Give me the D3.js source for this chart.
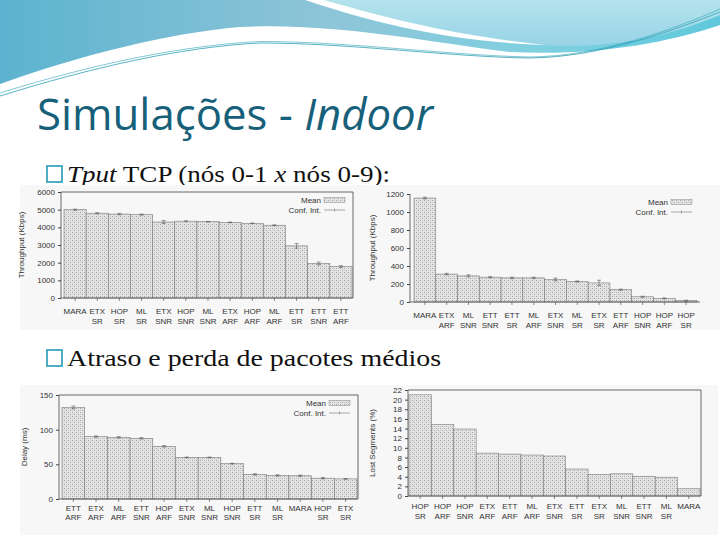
<!DOCTYPE html>
<html>
<head>
<meta charset="utf-8">
<style>
	body{ margin:0; background:#fff; }
	svg{ display:block; }
</style>
</head>
<body>
<script src="https://cdn.jsdelivr.net/npm/d3@7/dist/d3.min.js"></script>
<svg width="720" height="540"></svg>
<script>
	// data
	var tputCats = ["MARA","ETX SR","HOP SR","ML SR","ETX SNR","HOP SNR","ML SNR","ETX ARF","HOP ARF","ML ARF","ETT SR","ETT SNR","ETT ARF"];
	var tputVals = [5000,4800,4750,4720,4300,4350,4320,4280,4230,4120,2950,1950,1780];
	var tputCi = [30,30,40,30,80,10,10,20,10,20,130,80,50];
	var tputTicks = [0,1000,2000,3000,4000,5000,6000];

	var tput9Cats = ["MARA","ETX ARF","ML SNR","ETT SNR","ETT SR","ML ARF","ETX SNR","ML SR","ETX SR","ETT ARF","HOP SNR","HOP ARF","HOP SR"];
	var tput9Vals = [1155,310,290,276,268,268,250,228,212,137,58,40,15];
	var tput9Ci = [10,8,12,6,8,8,15,6,30,6,6,5,5];
	var tput9Ticks = [0,200,400,600,800,1000,1200];

	var delayCats = ["ETT ARF","ETX ARF","ML ARF","ETT SNR","HOP ARF","ETX SNR","ML SNR","HOP SNR","ETT SR","ML SR","MARA","HOP SR","ETX SR"];
	var delayVals = [132,90,89,87.5,76,60,60,51,35.5,34,33.5,30,29];
	var delayCi = [2,1,1,1,1,0.5,0.5,0.5,1,1,1,1,0.5];
	var delayTicks = [0,50,100,150];

	var lossCats = ["HOP SR","HOP ARF","HOP SNR","ETX ARF","ETT ARF","ML ARF","ETX SNR","ETT SR","ETX SR","ML SNR","ETT SNR","ML SR","MARA"];
	var lossVals = [21,14.8,13.9,8.9,8.7,8.5,8.3,5.6,4.5,4.6,4.1,3.9,1.5];
	var lossTicks = [0,2,4,6,8,10,12,14,16,18,20,22];

	var svg = d3.select("svg");
	var defs = svg.append("defs");

	// header swoosh
	var g1 = defs.append("linearGradient").attr("id","blueGrad").attr("x1","0").attr("x2","1").attr("y1","0").attr("y2","0");
	g1.append("stop").attr("offset","0").attr("stop-color","#5cb3cf");
	g1.append("stop").attr("offset","0.45").attr("stop-color","#8ec5d8");
	g1.append("stop").attr("offset","0.75").attr("stop-color","#7fd0e0");
	g1.append("stop").attr("offset","1").attr("stop-color","#5fc8dc");
	var g2 = defs.append("linearGradient").attr("id","cyanGrad").attr("x1","0").attr("x2","0").attr("y1","0").attr("y2","1");
	g2.append("stop").attr("offset","0").attr("stop-color","#b3e3ec");
	g2.append("stop").attr("offset","1").attr("stop-color","#98d3e6");

	var pat = defs.append("pattern").attr("id","hatch").attr("patternUnits","userSpaceOnUse")
		.attr("width",4).attr("height",4);
	pat.append("rect").attr("width",4).attr("height",4).attr("fill","#e4e4e4");
	pat.append("rect").attr("x",0).attr("y",0).attr("width",1).attr("height",1).attr("fill","#a5a5a5");
	pat.append("rect").attr("x",2).attr("y",2).attr("width",1).attr("height",1).attr("fill","#a5a5a5");
	pat.append("rect").attr("x",2).attr("y",0).attr("width",1).attr("height",1).attr("fill","#cccccc");
	pat.append("rect").attr("x",0).attr("y",2).attr("width",1).attr("height",1).attr("fill","#cccccc");

	svg.append("path")
		.attr("d","M0,0 L720,0 L720,25 C660,45 590,56 510,52 C450,46 340,22 240,27 C170,33 80,55 0,84 Z")
		.attr("fill","url(#blueGrad)");
	svg.append("path")
		.attr("d","M322,0 L720,0 L720,15 C670,36 610,50 540,45 C450,36 380,16 322,0 Z")
		.attr("fill","url(#cyanGrad)");
	svg.append("path")
		.attr("d","M305,0 L324,0 C380,16 450,35 545,45 C450,42 370,22 305,0 Z")
		.attr("fill","#fff");
	[[0,0],[3,0.6],[6,0.8]].forEach(function(o){
		svg.append("path")
			.attr("d","M0,"+(90+o[0])+" C90,"+(62+o[0])+" 180,"+(44+o[0]/2)+" 260,"+(40+o[0]/2)+" C350,"+(40+o[0]/2)+" 450,"+(54+o[0]/2)+" 530,"+(56+o[0]/3)+" C600,"+(55+o[0]/3)+" 670,"+(30+o[0]/3)+" 720,"+(6+o[0]))
			.attr("fill","none").attr("stroke","#2f9fb5").attr("stroke-width",o[1]);
	});

	// title and bullets
	var title = svg.append("text").attr("x",37).attr("y",130)
		.attr("textLength",396).attr("lengthAdjust","spacingAndGlyphs")
		.style("font-family","'Open Sans', sans-serif").style("font-size","44px").attr("fill","#17607a");
	title.append("tspan").text("Simulações - ");
	title.append("tspan").style("font-style","italic").text("Indoor");

	function bullet(y, len, parts){
		svg.append("rect").attr("x",47).attr("y",y-16).attr("width",15).attr("height",16)
			.attr("fill","none").attr("stroke","#3aa6bd").attr("stroke-width",1.8);
		var t = svg.append("text").attr("x",67).attr("y",y)
			.attr("textLength",len).attr("lengthAdjust","spacingAndGlyphs")
			.style("font-family","'Liberation Serif', serif").style("font-size","23px").attr("fill","#111");
		parts.forEach(function(p){
			t.append("tspan").style("font-style",p[1] ? "italic" : "normal").text(p[0]);
		});
	}
	bullet(182,323,[["Tput",true],[" TCP (nós 0-1 ",false],["x",true],[" nós 0-9):",false]]);
	bullet(366,374,[["Atraso e perda de pacotes médios",false]]);

	// one small bar chart
	function barChart(o){
		svg.append("rect").attr("x",o.panel[0]).attr("y",o.panel[1]).attr("width",o.panel[2]).attr("height",o.panel[3]).attr("fill","#f7f7f7");
		var g = svg.append("g");
		var x = d3.scaleBand().domain(o.cats).range([o.bx0, o.bx1]).padding(0);
		var y = d3.scaleLinear().domain([0, o.max]).range([o.bottom, o.top]);

		g.selectAll(".bar").data(o.vals).enter().append("rect")
			.attr("x",function(d,i){ return x(o.cats[i]); })
			.attr("y",function(d){ return y(d); })
			.attr("width",x.bandwidth())
			.attr("height",function(d){ return y(0) - y(d); })
			.attr("fill","url(#hatch)").attr("stroke","#7a7a7a").attr("stroke-width",0.6);

		if(o.ci){
			o.vals.forEach(function(v,i){
				var cx = x(o.cats[i]) + x.bandwidth()/2;
				g.append("path")
					.attr("d","M"+cx+","+y(v-o.ci[i])+"V"+y(v+o.ci[i])+"M"+(cx-2)+","+y(v+o.ci[i])+"h4M"+(cx-2)+","+y(v-o.ci[i])+"h4")
					.attr("stroke","#555").attr("stroke-width",0.6).attr("fill","none");
			});
		}

		// frame
		var fr = "M"+o.left+","+o.top+"V"+o.bottom+"H"+o.right;
		if(o.box) fr += "V"+o.top+"H"+o.left;
		g.append("path").attr("d",fr).attr("fill","none").attr("stroke","#444").attr("stroke-width",0.8);

		var yAxis = d3.axisLeft(y).tickValues(o.ticks).tickFormat(d3.format("d")).tickSize(3).tickPadding(3);
		var ya = g.append("g").attr("transform","translate("+o.left+",0)").call(yAxis);
		ya.select(".domain").remove();
		ya.selectAll("line").attr("stroke","#444");
		ya.selectAll("text").style("font-family","'Liberation Sans', sans-serif").style("font-size","8px").attr("fill","#333");

		// category ticks and two-line labels
		o.cats.forEach(function(c){
			var cx = x(c) + x.bandwidth()/2;
			g.append("line").attr("x1",cx).attr("x2",cx).attr("y1",o.bottom).attr("y2",o.bottom+3).attr("stroke","#444").attr("stroke-width",0.6);
			var t = g.append("text").attr("x",cx).attr("y",o.bottom+o.lab).attr("text-anchor","middle")
				.style("font-family","'Liberation Sans', sans-serif").style("font-size","8px").attr("fill","#333");
			c.split(" ").forEach(function(w,k){
				t.append("tspan").attr("x",cx).attr("dy",k ? 9.5 : 0).text(w);
			});
		});

		g.append("text")
			.attr("transform","translate("+(o.left-o.tgap)+","+((o.top+o.bottom)/2)+") rotate(-90)")
			.attr("text-anchor","middle")
			.style("font-family","'Liberation Sans', sans-serif").style("font-size","8px").attr("fill","#333")
			.text(o.ylabel);

		if(o.legend){
			var lx = o.right - 32, ly = o.top + 8;
			g.append("text").attr("x",lx).attr("y",ly+3).attr("text-anchor","end")
				.style("font-family","'Liberation Sans', sans-serif").style("font-size","8px").attr("fill","#333").text("Mean");
			g.append("rect").attr("x",lx+3).attr("y",ly-2.5).attr("width",21).attr("height",5)
				.attr("fill","url(#hatch)").attr("stroke","#888").attr("stroke-width",0.5);
			g.append("text").attr("x",lx).attr("y",ly+13).attr("text-anchor","end")
				.style("font-family","'Liberation Sans', sans-serif").style("font-size","8px").attr("fill","#333").text("Conf. Int.");
			g.append("path").attr("d","M"+(lx+3)+","+(ly+10)+"h21M"+(lx+13.5)+","+(ly+8.5)+"v3")
				.attr("stroke","#777").attr("stroke-width",0.6);
		}
	}

	barChart({cats:tputCats, vals:tputVals, ci:tputCi, ticks:tputTicks, max:6000, ylabel:"Throughput (Kbps)",
		panel:[20,185,347,145], left:61, right:353, top:192, bottom:298, bx0:64, bx1:352, lab:16, tgap:37, box:true, legend:true});
	barChart({cats:tput9Cats, vals:tput9Vals, ci:tput9Ci, ticks:tput9Ticks, max:1200, ylabel:"Throughput (Kbps)",
		panel:[366,185,354,145], left:410, right:700, top:194, bottom:302, bx0:414, bx1:697, lab:16, tgap:35, box:false, legend:true});
	barChart({cats:delayCats, vals:delayVals, ci:delayCi, ticks:delayTicks, max:150, ylabel:"Delay (ms)",
		panel:[20,385,347,150], left:59, right:358, top:395, bottom:499, bx0:62, bx1:357, lab:11.5, tgap:32, box:true, legend:true});
	barChart({cats:lossCats, vals:lossVals, ci:null, ticks:lossTicks, max:22, ylabel:"Lost Segments (%)",
		panel:[366,385,352,150], left:408, right:701, top:390, bottom:496, bx0:409, bx1:700, lab:13, tgap:33, box:true, legend:false});
</script>
</body>
</html>
